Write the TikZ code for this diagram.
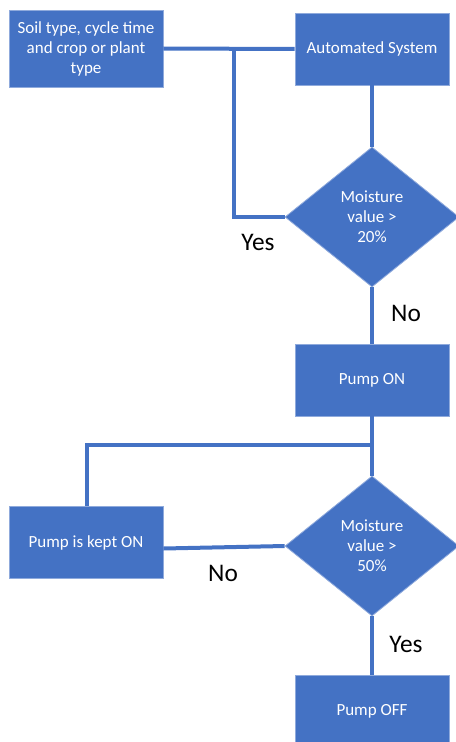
\documentclass[tikz,border=0pt]{standalone}
\usepackage{fontspec}
\setmainfont{Carlito}
\usepackage{tikz}
\usetikzlibrary{shapes.geometric}
\definecolor{flowblue}{HTML}{4472C4}
\definecolor{edgeblue}{HTML}{8FAADC}
\tikzset{
  procbox/.style={rectangle, fill=flowblue, draw=edgeblue, line width=0.6pt, text=white,
    minimum width=115.5pt, minimum height=54pt, inner sep=0pt, align=center,
    font=\fontsize{12.75pt}{15pt}\selectfont},
  decbox/.style={diamond, fill=flowblue, draw=edgeblue, line width=0.6pt, text=white,
    minimum width=130.5pt, minimum height=105pt, inner sep=0pt, align=center,
    font=\fontsize{12.75pt}{15pt}\selectfont},
  link/.style={draw=flowblue, line width=3pt},
  answer/.style={font=\fontsize{19pt}{22pt}\selectfont, inner sep=0pt}
}
\begin{document}
\begin{tikzpicture}[x=0.75pt, y=-0.75pt]
\useasboundingbox (0, 0) rectangle (456, 742);
\node [procbox, minimum height=57.75pt] (input) at (86, 48.5) {Soil type, cycle time\\and crop or plant\\type};
\node [procbox] (auto) at (372, 49) {Automated System};
\node [decbox] (check20) at (372, 217) {Moisture\\value >\\20\%};
\node [procbox] (pumpon) at (372, 380) {Pump ON};
\node [procbox] (kepton) at (86, 542.5) {Pump is kept ON};
\node [decbox] (check50) at (372, 546) {Moisture\\value >\\50\%};
\node [procbox] (pumpoff) at (372, 711) {Pump OFF};
\coordinate (split1) at (234, 49);
\coordinate (split2) at (372, 445);
% connectors
\draw [link] (input.east) -- (auto.west);
\draw [link] (split1) |- (check20.west);
\draw [link] (auto.south) -- (check20.north);
\draw [link] (check20.south) -- (pumpon.north);
\draw [link] (pumpon.south) -- (check50.north);
\draw [link] (split2) -| ([xshift=0.75pt]kepton.north);
\draw [link] (check50.west) -- ([yshift=-4.5pt]kepton.east);
\draw [link] (check50.south) -- (pumpoff.north);
% answers
\node [answer] (yes20) at (258, 242) {Yes};
\node [answer] (no20) at (406, 313) {No};
\node [answer] (no50) at (223, 573) {No};
\node [answer] (yes50) at (406, 644) {Yes};
\end{tikzpicture}
\end{document}
